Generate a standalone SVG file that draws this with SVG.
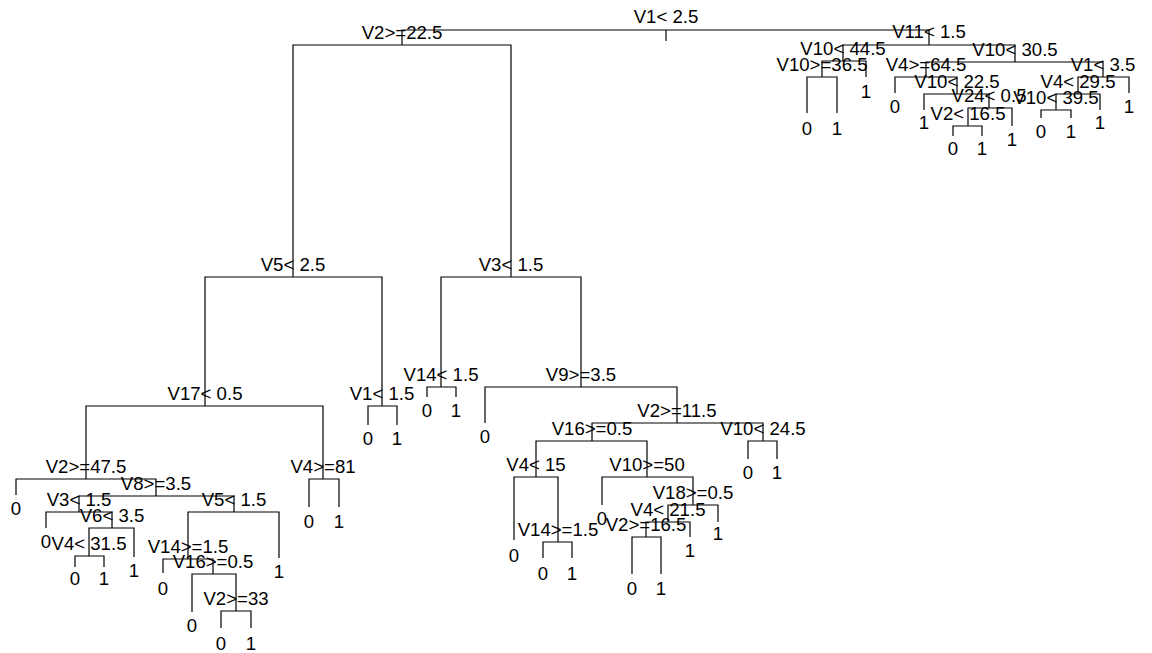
<svg xmlns="http://www.w3.org/2000/svg" width="1152" height="653" viewBox="0 0 1152 653">
<style>
.e{fill:none;stroke:#000;stroke-width:1.2}
text{font-family:"Liberation Sans",Arial,sans-serif;font-size:18.6px;fill:#000;text-anchor:middle}
</style>
<rect width="1152" height="653" fill="#fff"/>
<g id="connectors">
<path class="e" d="M666 30V41"/>
<path class="e" d="M666 30H402V45"/><path class="e" d="M666 30H929V45"/>
<path class="e" d="M402 45H293V277"/><path class="e" d="M402 45H511V277"/>
<path class="e" d="M293 277H205V406"/><path class="e" d="M293 277H382V406"/>
<path class="e" d="M382 406H368V425"/><path class="e" d="M382 406H397V425"/>
<path class="e" d="M205 406H86V479"/><path class="e" d="M205 406H323V479"/>
<path class="e" d="M323 479H309V507"/><path class="e" d="M323 479H339V507"/>
<path class="e" d="M86 479H16V495"/><path class="e" d="M86 479H156V496"/>
<path class="e" d="M156 496H79V512"/><path class="e" d="M156 496H234V512"/>
<path class="e" d="M79 512H46V528"/><path class="e" d="M79 512H112V528"/>
<path class="e" d="M112 528H89V556"/><path class="e" d="M112 528H134V557"/>
<path class="e" d="M89 556H75V567"/><path class="e" d="M89 556H104V567"/>
<path class="e" d="M234 512H188V559"/><path class="e" d="M234 512H279V558"/>
<path class="e" d="M188 559H163V573"/><path class="e" d="M188 559H213V574"/>
<path class="e" d="M213 574H192V612"/><path class="e" d="M213 574H236V611"/>
<path class="e" d="M236 611H221V628"/><path class="e" d="M236 611H251V628"/>
<path class="e" d="M511 277H441V387"/><path class="e" d="M511 277H581V387"/>
<path class="e" d="M441 387H427V397"/><path class="e" d="M441 387H456V397"/>
<path class="e" d="M581 387H485V423"/><path class="e" d="M581 387H677V423"/>
<path class="e" d="M677 423H592V441"/><path class="e" d="M677 423H763V441"/>
<path class="e" d="M592 441H536V477"/><path class="e" d="M592 441H647V477"/>
<path class="e" d="M536 477H514V540"/><path class="e" d="M536 477H558V542"/>
<path class="e" d="M558 542H543V558"/><path class="e" d="M558 542H572V558"/>
<path class="e" d="M647 477H602V505"/><path class="e" d="M647 477H693V505"/>
<path class="e" d="M693 505H668V522"/><path class="e" d="M693 505H718V522"/>
<path class="e" d="M668 522H646V537"/><path class="e" d="M668 522H690V537"/>
<path class="e" d="M646 537H632V574"/><path class="e" d="M646 537H661V574"/>
<path class="e" d="M763 441H748V459"/><path class="e" d="M763 441H777V459"/>
<path class="e" d="M929 45H843V61"/><path class="e" d="M929 45H1015V62"/>
<path class="e" d="M843 61H822V77"/><path class="e" d="M843 61H866V77"/>
<path class="e" d="M822 77H807V113"/><path class="e" d="M822 77H837V113"/>
<path class="e" d="M1015 62H926V77"/><path class="e" d="M1015 62H1103V77"/>
<path class="e" d="M926 77H895V93"/><path class="e" d="M926 77H957V94"/>
<path class="e" d="M957 94H924V110"/><path class="e" d="M957 94H989V108"/>
<path class="e" d="M989 108H968V126"/><path class="e" d="M989 108H1012V126"/>
<path class="e" d="M968 126H953V136"/><path class="e" d="M968 126H982V136"/>
<path class="e" d="M1103 77H1078V94"/><path class="e" d="M1103 77H1129V93"/>
<path class="e" d="M1078 94H1056V110"/><path class="e" d="M1078 94H1100V110"/>
<path class="e" d="M1056 110H1041V118"/><path class="e" d="M1056 110H1071V118"/>
</g>
<g id="n_root"><text x="666" y="23">V1&lt; 2.5</text></g>
<g id="n_A"><text x="402" y="39">V2&gt;=22.5</text></g>
<g id="n_B"><text x="929" y="38">V11&lt; 1.5</text></g>
<g id="n_A1"><text x="293" y="271">V5&lt; 2.5</text></g>
<g id="n_A2"><text x="511" y="271">V3&lt; 1.5</text></g>
<g id="n_A1a"><text x="205" y="400">V17&lt; 0.5</text></g>
<g id="n_A1b"><text x="382" y="400">V1&lt; 1.5</text></g>
<g id="l_A1b0"><text x="368" y="445">0</text></g>
<g id="l_A1b1"><text x="397" y="445">1</text></g>
<g id="n_A1a1"><text x="86" y="473">V2&gt;=47.5</text></g>
<g id="n_A1a2"><text x="323" y="473">V4&gt;=81</text></g>
<g id="l_A1a20"><text x="309" y="528">0</text></g>
<g id="l_A1a21"><text x="339" y="528">1</text></g>
<g id="l_16"><text x="16" y="515">0</text></g>
<g id="n_V8"><text x="156" y="490">V8&gt;=3.5</text></g>
<g id="n_V3b"><text x="79" y="506">V3&lt; 1.5</text></g>
<g id="l_46"><text x="46" y="548">0</text></g>
<g id="n_V6"><text x="112" y="522">V6&lt; 3.5</text></g>
<g id="n_V4a"><text x="89" y="550">V4&lt; 31.5</text></g>
<g id="l_75"><text x="75" y="585">0</text></g>
<g id="l_104"><text x="104" y="585">1</text></g>
<g id="l_134"><text x="134" y="577">1</text></g>
<g id="n_V5b"><text x="234" y="506">V5&lt; 1.5</text></g>
<g id="n_V14a"><text x="188" y="553">V14&gt;=1.5</text></g>
<g id="l_163"><text x="163" y="595">0</text></g>
<g id="n_V16a"><text x="213" y="568">V16&gt;=0.5</text></g>
<g id="l_192"><text x="192" y="632">0</text></g>
<g id="n_V2c"><text x="236" y="605">V2&gt;=33</text></g>
<g id="l_221"><text x="221" y="650">0</text></g>
<g id="l_251"><text x="251" y="650">1</text></g>
<g id="l_279"><text x="279" y="578">1</text></g>
<g id="n_V14b"><text x="441" y="381">V14&lt; 1.5</text></g>
<g id="l_427"><text x="427" y="417">0</text></g>
<g id="l_456"><text x="456" y="417">1</text></g>
<g id="n_V9"><text x="581" y="381">V9&gt;=3.5</text></g>
<g id="l_485"><text x="485" y="443">0</text></g>
<g id="n_V2d"><text x="677" y="417">V2&gt;=11.5</text></g>
<g id="n_V16b"><text x="592" y="435">V16&gt;=0.5</text></g>
<g id="n_V4b"><text x="536" y="471">V4&lt; 15</text></g>
<g id="l_514"><text x="514" y="562">0</text></g>
<g id="n_V14c"><text x="558" y="536">V14&gt;=1.5</text></g>
<g id="l_543"><text x="543" y="580">0</text></g>
<g id="l_572"><text x="572" y="580">1</text></g>
<g id="n_V10a"><text x="647" y="471">V10&gt;=50</text></g>
<g id="l_602"><text x="602" y="525">0</text></g>
<g id="n_V18"><text x="693" y="499">V18&gt;=0.5</text></g>
<g id="n_V4c"><text x="668" y="516">V4&lt; 21.5</text></g>
<g id="n_V2e"><text x="646" y="531">V2&gt;=16.5</text></g>
<g id="l_632"><text x="632" y="595">0</text></g>
<g id="l_661"><text x="661" y="595">1</text></g>
<g id="l_690"><text x="690" y="557">1</text></g>
<g id="l_718"><text x="718" y="540">1</text></g>
<g id="n_V10b"><text x="763" y="435">V10&lt; 24.5</text></g>
<g id="l_748"><text x="748" y="479">0</text></g>
<g id="l_777"><text x="777" y="479">1</text></g>
<g id="n_V10c"><text x="843" y="55">V10&lt; 44.5</text></g>
<g id="n_V10d"><text x="822" y="71">V10&gt;=36.5</text></g>
<g id="l_807"><text x="807" y="135">0</text></g>
<g id="l_837"><text x="837" y="135">1</text></g>
<g id="l_866"><text x="866" y="98">1</text></g>
<g id="n_V10e"><text x="1015" y="56">V10&lt; 30.5</text></g>
<g id="n_V4d"><text x="926" y="71">V4&gt;=64.5</text></g>
<g id="l_895"><text x="895" y="113">0</text></g>
<g id="n_V10f"><text x="957" y="88">V10&lt; 22.5</text></g>
<g id="l_924"><text x="924" y="129">1</text></g>
<g id="n_V24"><text x="989" y="102">V24&lt; 0.5</text></g>
<g id="n_V2f"><text x="968" y="120">V2&lt; 16.5</text></g>
<g id="l_953"><text x="953" y="155">0</text></g>
<g id="l_982"><text x="982" y="155">1</text></g>
<g id="l_1012"><text x="1012" y="146">1</text></g>
<g id="n_V1c"><text x="1103" y="71">V1&lt; 3.5</text></g>
<g id="n_V4e"><text x="1078" y="88">V4&lt; 29.5</text></g>
<g id="n_V10g"><text x="1056" y="104">V10&lt; 39.5</text></g>
<g id="l_1041"><text x="1041" y="138">0</text></g>
<g id="l_1071"><text x="1071" y="138">1</text></g>
<g id="l_1100"><text x="1100" y="129">1</text></g>
<g id="l_1129"><text x="1129" y="113">1</text></g>
</svg>
